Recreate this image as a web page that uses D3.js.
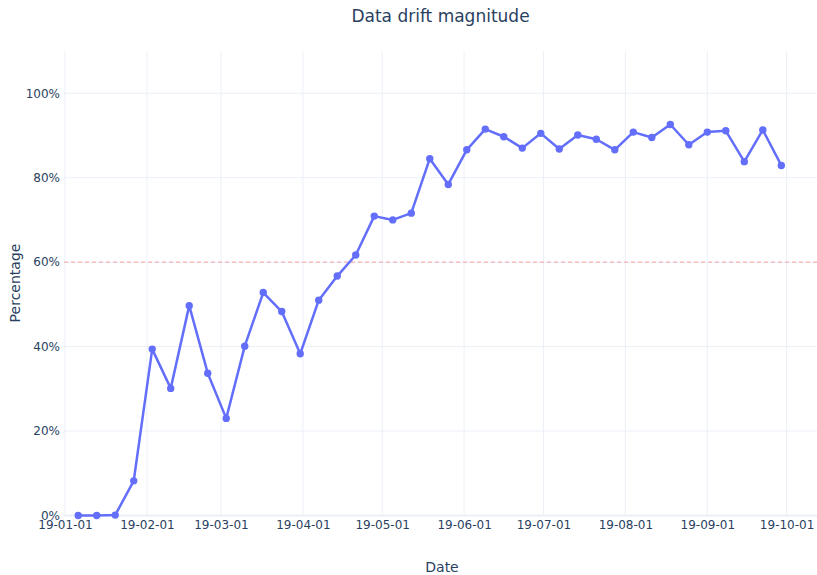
<!DOCTYPE html>
<html>
<head>
<meta charset="utf-8">
<script src="https://cdn.jsdelivr.net/npm/d3@7"></script>
<style>
  html, body { margin: 0; padding: 0; background: #fff; }
  svg { display: block; font-family: "DejaVu Sans", Verdana, sans-serif; }
</style>
</head>
<body>
<svg id="chart" width="817" height="575"></svg>
<script>
const title = "Data drift magnitude";
const xTitle = "Date";
const yTitle = "Percentage";
const dates = [
  "2019-01-06","2019-01-13","2019-01-20","2019-01-27","2019-02-03","2019-02-10","2019-02-17","2019-02-24",
  "2019-03-03","2019-03-10","2019-03-17","2019-03-24","2019-03-31","2019-04-07","2019-04-14","2019-04-21",
  "2019-04-28","2019-05-05","2019-05-12","2019-05-19","2019-05-26","2019-06-02","2019-06-09","2019-06-16",
  "2019-06-23","2019-06-30","2019-07-07","2019-07-14","2019-07-21","2019-07-28","2019-08-04","2019-08-11",
  "2019-08-18","2019-08-25","2019-09-01","2019-09-08","2019-09-15","2019-09-22","2019-09-29"
];
const values = [
  0.0, 0.0, 0.1, 8.2, 39.4, 30.1, 49.7, 33.7,
  23.0, 40.1, 52.8, 48.3, 38.3, 51.0, 56.7, 61.7,
  70.9, 70.0, 71.6, 84.5, 78.4, 86.6, 91.5, 89.7,
  87.0, 90.5, 86.8, 90.1, 89.1, 86.6, 90.8, 89.5,
  92.6, 87.8, 90.8, 91.1, 83.8, 91.3, 82.9
];
const threshold = 60;
const xTickDates = ["2019-01-01","2019-02-01","2019-03-01","2019-04-01","2019-05-01","2019-06-01","2019-07-01","2019-08-01","2019-09-01","2019-10-01"];
const yTicks = [0, 20, 40, 60, 80, 100];
const xDomain = ["2018-12-31T15:00:00","2019-10-12T12:00:00"];
const yDomain = [0, 110];

(function () {
const parse = d3.isoParse;
const data = dates.map((d, i) => ({ date: parse(d), value: values[i] }));

const svg = d3.select("#chart");
const pL = 64, pR = 817, pT = 51, pB = 515.5;
const textColor = "#2a3f5f";
const gridColor = "#ebf0f8";
const fontFam = '"DejaVu Sans", Verdana, sans-serif';

const x = d3.scaleTime().domain(xDomain.map(parse)).range([pL, pR]);
const y = d3.scaleLinear().domain(yDomain).range([pB, pT]);

// vertical grid
svg.append("g").selectAll("line").data(xTickDates.map(parse)).join("line")
  .attr("x1", d => x(d)).attr("x2", d => x(d))
  .attr("y1", pT).attr("y2", pB)
  .attr("stroke", gridColor).attr("stroke-width", 1);

// horizontal grid
svg.append("g").selectAll("line").data(yTicks.filter(d => d !== 0)).join("line")
  .attr("x1", pL).attr("x2", pR)
  .attr("y1", d => y(d)).attr("y2", d => y(d))
  .attr("stroke", gridColor).attr("stroke-width", 1);
// zero line
svg.append("line").attr("x1", pL).attr("x2", pR)
  .attr("y1", y(0)).attr("y2", y(0))
  .attr("stroke", gridColor).attr("stroke-width", 2);

const xAxis = d3.axisBottom(x)
  .tickValues(xTickDates.map(parse))
  .tickFormat(d3.timeFormat("%y-%m-%d"))
  .tickSize(0).tickPadding(5);
const gx = svg.append("g").attr("transform", `translate(0,${pB})`).call(xAxis);
gx.select(".domain").remove();
gx.selectAll("text").attr("fill", textColor).attr("font-size", 12).attr("font-family", fontFam);

const yAxis = d3.axisLeft(y).tickValues(yTicks).tickFormat(d => d + "%").tickSize(0).tickPadding(4);
const gy = svg.append("g").attr("transform", `translate(${pL},0)`).call(yAxis);
gy.select(".domain").remove();
gy.selectAll("text").attr("fill", textColor).attr("font-size", 12).attr("font-family", fontFam);

// threshold
svg.append("line").attr("x1", pL).attr("x2", pR)
  .attr("y1", y(threshold)).attr("y2", y(threshold))
  .attr("stroke", "rgba(255,0,0,0.35)").attr("stroke-width", 1)
  .attr("stroke-dasharray", "4,3");

// line
const line = d3.line().x(d => x(d.date)).y(d => y(d.value));
svg.append("path").datum(data).attr("d", line)
  .attr("fill", "none").attr("stroke", "#636efa").attr("stroke-width", 2.5)
  .attr("stroke-linejoin", "round");
svg.append("g").selectAll("circle").data(data).join("circle")
  .attr("cx", d => x(d.date)).attr("cy", d => y(d.value)).attr("r", 3.7)
  .attr("fill", "#636efa");

// titles
svg.append("text").attr("x", (pL + pR) / 2).attr("y", 22)
  .attr("text-anchor", "middle").attr("font-size", 17).attr("fill", textColor).attr("font-family", fontFam).text(title);
svg.append("text").attr("x", 442).attr("y", 572)
  .attr("text-anchor", "middle").attr("font-size", 14).attr("fill", textColor).attr("font-family", fontFam).text(xTitle);
svg.append("text").attr("transform", `translate(20,283) rotate(-90)`)
  .attr("text-anchor", "middle").attr("font-size", 14).attr("fill", textColor).attr("font-family", fontFam).text(yTitle);
})();
</script>
</body>
</html>
